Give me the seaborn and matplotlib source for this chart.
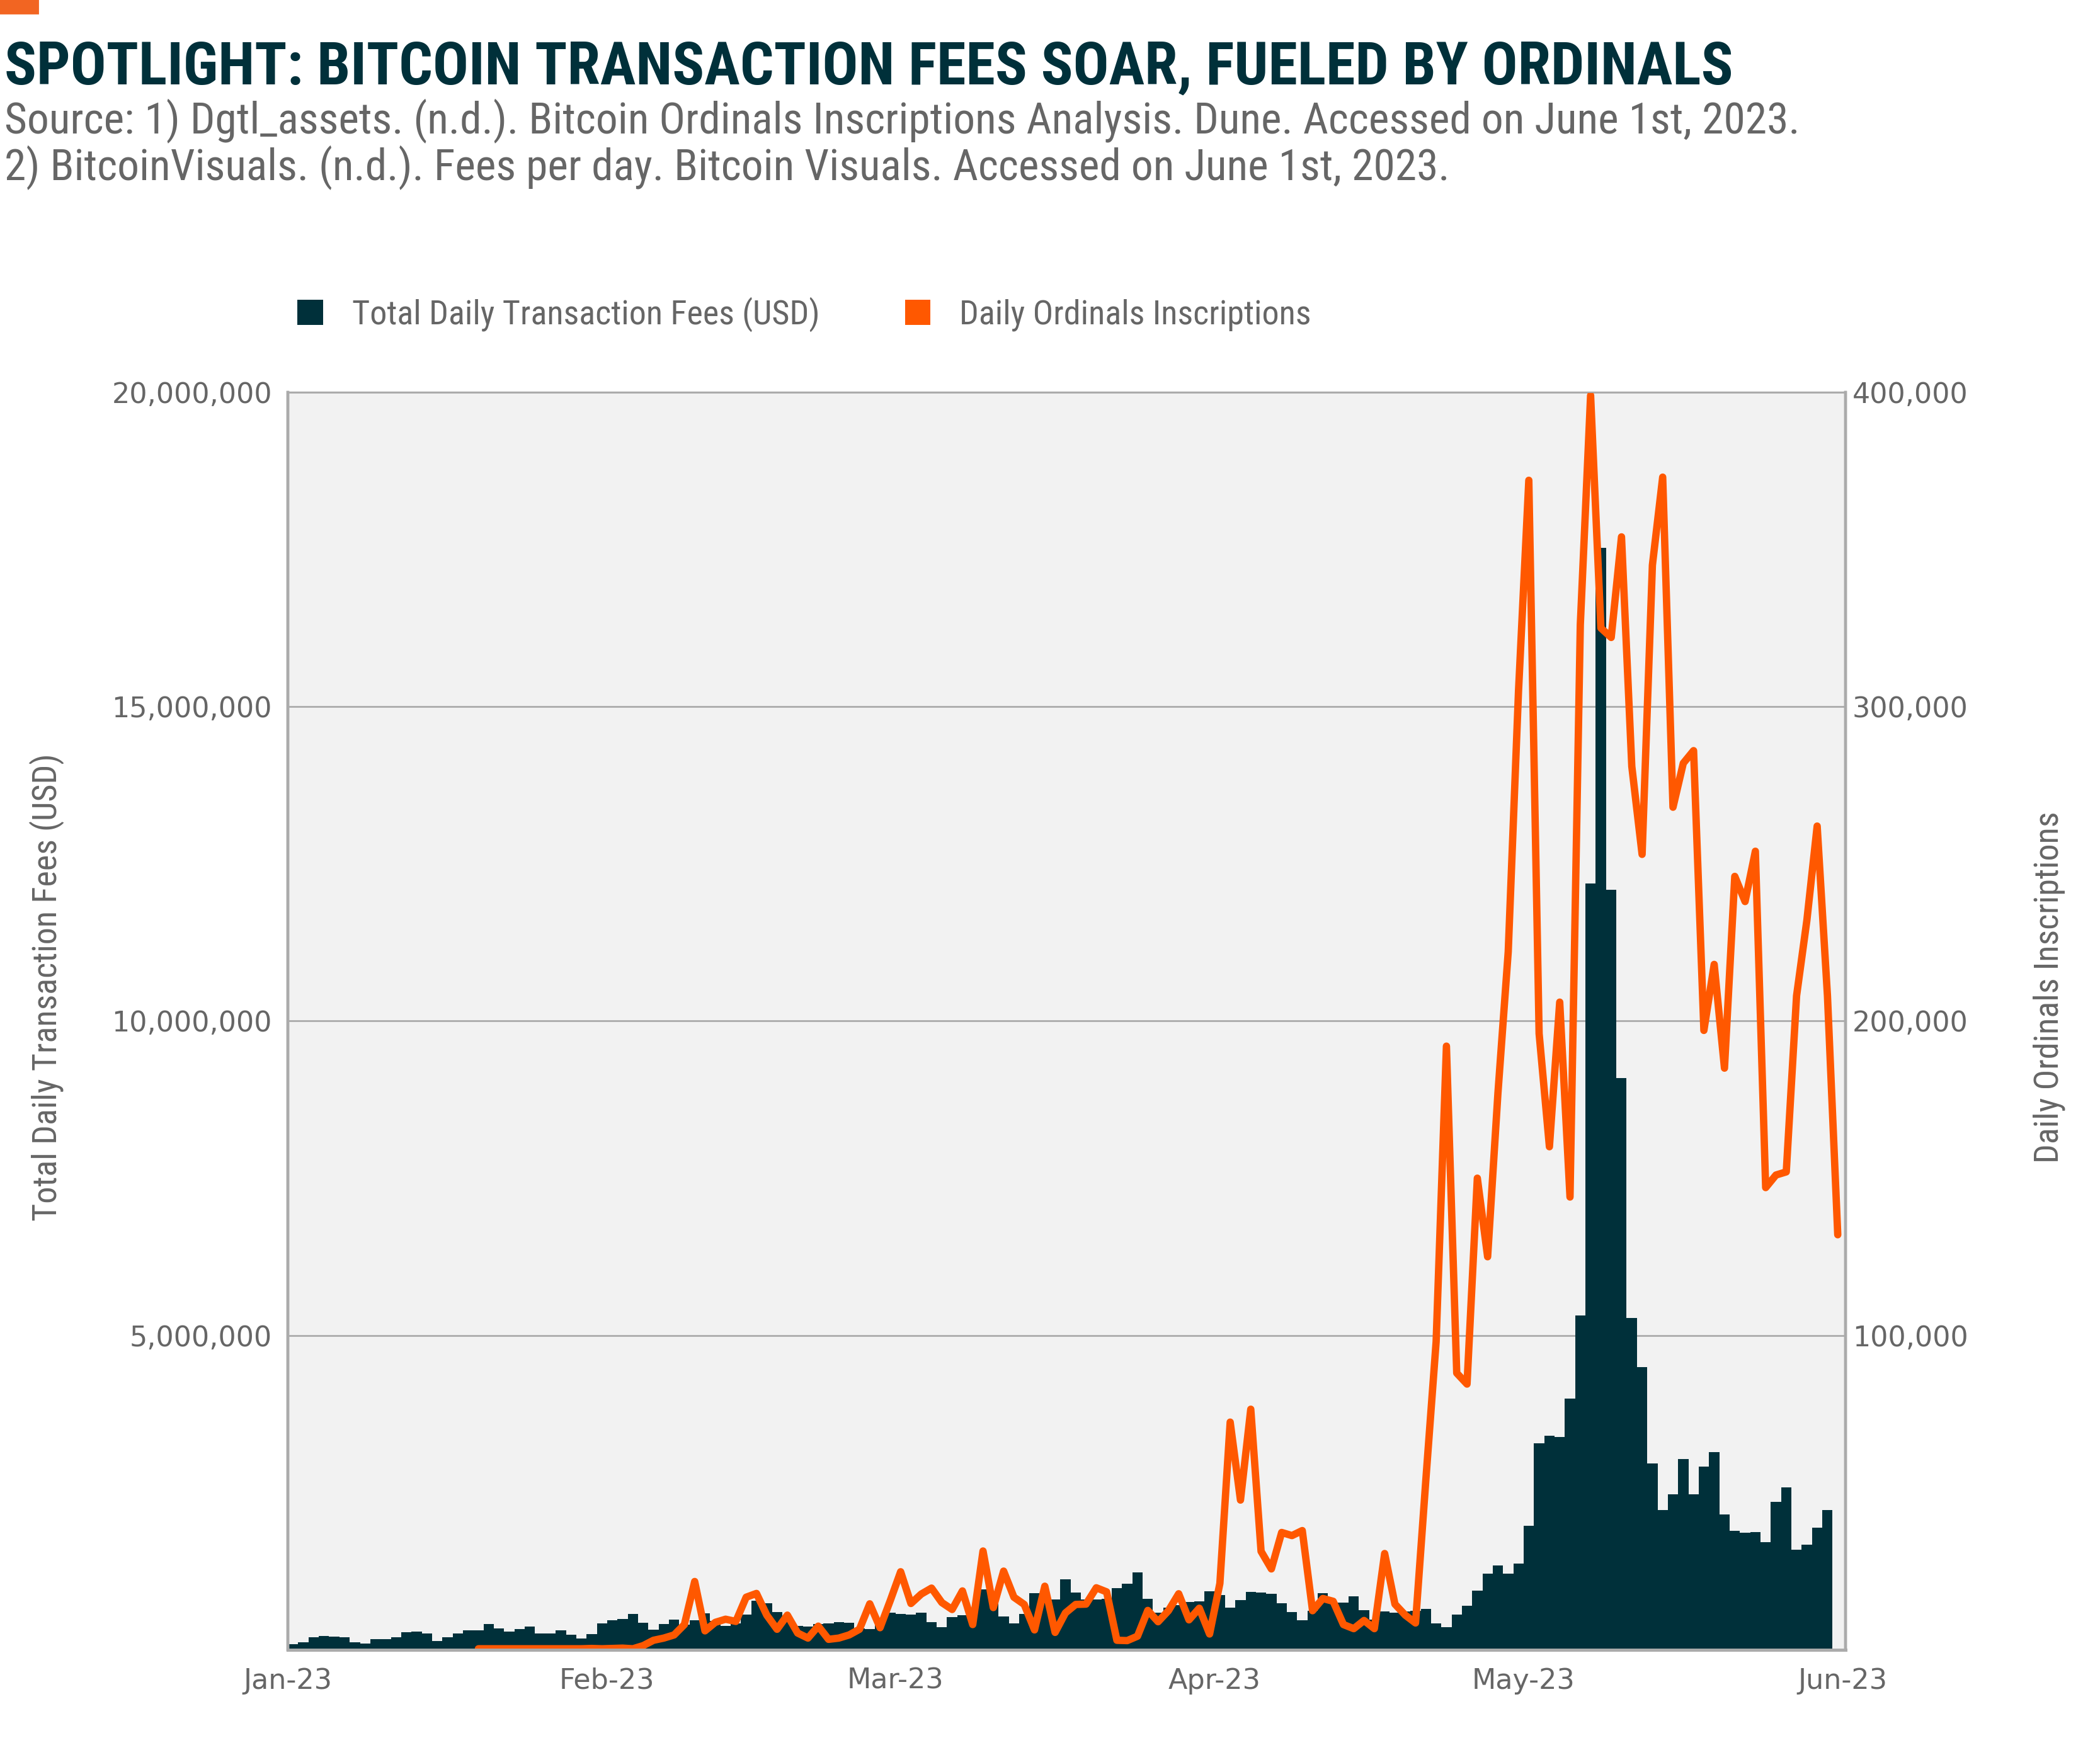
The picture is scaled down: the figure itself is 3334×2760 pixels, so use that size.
import numpy as np
import pandas as pd
import seaborn as sns
import matplotlib.pyplot as plt
from matplotlib.patches import Patch, Rectangle
from matplotlib.ticker import FixedLocator, FuncFormatter

# Daily transaction fees (million USD), one value per day from 2023-01-01
fee_start = "2023-01-01"
fees_musd = [
    0.09, 0.12, 0.20, 0.22, 0.21, 0.20, 0.12, 0.10, 0.17, 0.17,
    0.20, 0.28, 0.29, 0.26, 0.14, 0.20, 0.26, 0.31, 0.31, 0.41,
    0.34, 0.29, 0.33, 0.37, 0.26, 0.26, 0.31, 0.24, 0.18, 0.25,
    0.42, 0.47, 0.49, 0.57, 0.43, 0.32, 0.41, 0.48, 0.40, 0.47,
    0.58, 0.46, 0.38, 0.42, 0.56, 0.78, 0.74, 0.60, 0.50, 0.38,
    0.37, 0.41, 0.42, 0.44, 0.43, 0.34, 0.33, 0.40, 0.59, 0.57,
    0.56, 0.59, 0.44, 0.36, 0.52, 0.55, 0.57, 0.96, 0.80, 0.53,
    0.42, 0.57, 0.90, 0.90, 0.80, 1.12, 0.91, 0.80, 0.80, 0.81,
    0.98, 1.05, 1.23, 0.81, 0.59, 0.67, 0.71, 0.76, 0.77, 0.93,
    0.87, 0.67, 0.79, 0.92, 0.91, 0.89, 0.74, 0.60, 0.47, 0.62,
    0.90, 0.75, 0.75, 0.85, 0.63, 0.48, 0.61, 0.59, 0.61, 0.62,
    0.65, 0.42, 0.36, 0.56, 0.70, 0.94, 1.21, 1.34, 1.21, 1.37,
    1.97, 3.28, 3.40, 3.38, 3.99, 5.32, 12.19, 17.53, 12.09, 9.09,
    5.28, 4.49, 2.96, 2.22, 2.47, 3.03, 2.47, 2.91, 3.14, 2.15,
    1.89, 1.86, 1.87, 1.71, 2.35, 2.58, 1.59, 1.67, 1.94, 2.22,
]

# Daily ordinals inscriptions (thousands), one value per day from 2023-01-19
ord_start = "2023-01-19"
inscriptions_k = [
    0.3, 0.3, 0.3, 0.3, 0.3, 0.3, 0.3, 0.3, 0.3, 0.3,
    0.3, 0.4, 0.3, 0.4, 0.5, 0.3, 1.3, 3.0, 3.7, 4.7,
    8.0, 21.7, 6.0, 8.7, 9.7, 9.0, 16.7, 17.9, 11.0, 6.5,
    11.0, 5.3, 3.7, 7.5, 3.3, 3.7, 4.7, 6.5, 14.6, 7.0,
    15.7, 24.8, 14.7, 17.7, 19.6, 15.0, 12.8, 18.7, 8.0, 31.4,
    13.4, 25.0, 16.7, 14.4, 6.3, 20.2, 5.5, 11.7, 14.4, 14.5,
    19.7, 18.4, 3.0, 2.9, 4.3, 12.5, 8.9, 12.4, 17.8, 9.5,
    13.2, 5.0, 21.1, 72.4, 47.6, 76.5, 31.3, 25.7, 37.3, 36.3,
    37.9, 12.4, 16.3, 15.4, 8.0, 6.7, 9.3, 6.7, 30.6, 14.5,
    11.0, 8.5, 54.0, 98.0, 192.0, 88.0, 84.5, 150.0, 125.0, 177.0,
    222.0, 305.0, 372.0, 196.0, 160.0, 206.0, 144.0, 326.0, 399.0, 325.0,
    322.0, 354.0, 281.0, 253.0, 345.0, 373.0, 268.0, 282.0, 286.0, 197.0,
    218.0, 185.0, 246.0, 238.0, 254.0, 147.0, 151.0, 152.0, 208.0, 232.0,
    262.0, 208.0, 132.0,
]

month_ticks = ["2023-01-01", "2023-02-01", "2023-03-01", "2023-04-01", "2023-05-01", "2023-06-01"]
left_ticks = [5_000_000, 10_000_000, 15_000_000, 20_000_000]
right_ticks = [100_000, 200_000, 300_000, 400_000]

title = "SPOTLIGHT: BITCOIN TRANSACTION FEES SOAR, FUELED BY ORDINALS"
source_1 = "Source: 1) Dgtl_assets. (n.d.). Bitcoin Ordinals Inscriptions Analysis. Dune. Accessed on June 1st, 2023."
source_2 = "2) BitcoinVisuals. (n.d.). Fees per day. Bitcoin Visuals. Accessed on June 1st, 2023."
fee_label = "Total Daily Transaction Fees (USD)"
ord_label = "Daily Ordinals Inscriptions"

TEAL = "#00303A"
ORANGE = "#FF5800"
GREY = "#666666"
AXGREY = "#ABABAB"
COND = ["Roboto Condensed", "Liberation Sans Narrow", "DejaVu Sans"]
TICKF = ["DejaVu Sans"]

origin = pd.Timestamp("2023-01-01")
fee_df = pd.DataFrame({
    "day": (pd.date_range(fee_start, periods=len(fees_musd)) - origin).days + 0.5,
    "fees": np.array(fees_musd) * 1e6,
})
ord_df = pd.DataFrame({
    "day": (pd.date_range(ord_start, periods=len(inscriptions_k)) - origin).days + 0.5,
    "inscriptions": np.array(inscriptions_k) * 1e3,
})
tick_days = [(pd.Timestamp(t) - origin).days for t in month_ticks]
tick_labels = [pd.Timestamp(t).strftime("%b-%y") for t in month_ticks]

sns.set_style("white")

fig = plt.figure(figsize=(16.67, 13.8))
ax = fig.add_axes([0.1371, 0.0508, 0.7417, 0.7235])
ax.set_facecolor("#F2F2F2")

sns.barplot(data=fee_df, x="day", y="fees", native_scale=True, width=1,
            color=TEAL, saturation=1, linewidth=0, errorbar=None, ax=ax)

ax2 = ax.twinx()
sns.lineplot(data=ord_df, x="day", y="inscriptions", color=ORANGE, linewidth=4.2,
             solid_joinstyle="round", solid_capstyle="round", ax=ax2, legend=False)

ax.set_xlim(0, tick_days[-1] + 0.25)
ax.set_ylim(0, 20_000_000)
ax2.set_ylim(0, 400_000)

ax.set_axisbelow(True)
ax.yaxis.set_major_locator(FixedLocator(left_ticks))
ax.yaxis.grid(True, color=AXGREY, linewidth=1.0)
ax.xaxis.grid(False)
ax2.yaxis.set_major_locator(FixedLocator(right_ticks))
ax2.grid(False)

ax.yaxis.set_major_formatter(FuncFormatter(lambda v, p: f"{v:,.0f}"))
ax2.yaxis.set_major_formatter(FuncFormatter(lambda v, p: f"{v:,.0f}"))
ax.set_xticks(tick_days)
ax.set_xticklabels(tick_labels)

ax.tick_params(axis="y", length=0, pad=9, labelsize=16, labelcolor=GREY)
ax2.tick_params(axis="y", length=0, pad=4, labelsize=16, labelcolor=GREY)
ax.tick_params(axis="x", length=4, width=1, color="#D0D0D0", pad=6, labelsize=16, labelcolor=GREY)
for lab in ax.get_xticklabels() + ax.get_yticklabels() + ax2.get_yticklabels():
    lab.set_family(TICKF)

ax.set_xlabel("")
ax.set_ylabel("")
ax2.set_ylabel("")

for a in (ax, ax2):
    for side in ("left", "right", "top", "bottom"):
        a.spines[side].set_color(AXGREY)
    a.spines["left"].set_linewidth(1.6)
    a.spines["right"].set_linewidth(1.6)
    a.spines["bottom"].set_linewidth(1.8)
    a.spines["top"].set_linewidth(0.8)

ax.text(-0.1548, 0.527, fee_label, transform=ax.transAxes, rotation=90,
        ha="center", va="center", fontsize=19.5, color=GREY, family=COND)
ax.text(1.1307, 0.527, ord_label, transform=ax.transAxes, rotation=90,
        ha="center", va="center", fontsize=19.5, color=GREY, family=COND)

# header
fig.patches.append(Rectangle((0, 0.9923), 0.0179, 0.0077, transform=fig.transFigure,
                             color="#F26522", zorder=5))
fig.text(0.002, 0.9515, title, fontsize=34, fontweight="bold", color=TEAL,
         family=COND, va="baseline")
fig.text(0.002, 0.9235, source_1, fontsize=25, color=GREY, family=COND, va="baseline")
fig.text(0.002, 0.8965, source_2, fontsize=25, color=GREY, family=COND, va="baseline")

handles = [Patch(facecolor=TEAL, edgecolor="none"), Patch(facecolor=ORANGE, edgecolor="none")]
fig.legend(handles, [fee_label, ord_label], loc="center left",
           bbox_to_anchor=(0.1416, 0.819), ncol=2, frameon=False,
           prop={"family": COND, "size": 19.5}, labelcolor=GREY,
           handlelength=0.75, handleheight=0.75, handletextpad=0.85,
           columnspacing=2.5, borderpad=0, borderaxespad=0)

fig.savefig("out.png", dpi=200, facecolor="white")
